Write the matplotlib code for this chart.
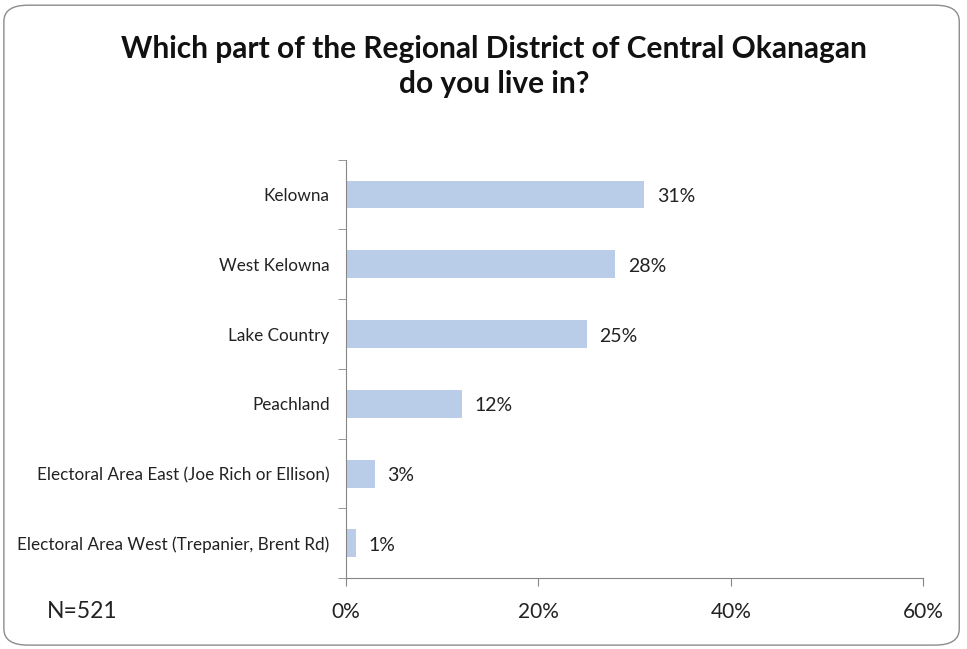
import matplotlib
matplotlib.use("Agg")
import matplotlib.pyplot as plt
from matplotlib.patches import FancyBboxPatch
import numpy as np

# data
categories = ["Kelowna", "West Kelowna", "Lake Country", "Peachland",
              "Electoral Area East (Joe Rich or Ellison)",
              "Electoral Area West (Trepanier, Brent Rd)"]
values = [31, 28, 25, 12, 3, 1]
xticks = [0, 20, 40, 60]
title = "Which part of the Regional District of Central Okanagan\ndo you live in?"
note = "N=521"

plt.rcParams["font.family"] = ["Lato", "DejaVu Sans"]
axis_color = "#868686"
bar_color = "#B9CCE8"

fig = plt.figure(figsize=(9.67, 6.49), dpi=100)

# rounded chart border
border = FancyBboxPatch((0.004, 0.006), 0.988, 0.986,
                        boxstyle="round,pad=0,rounding_size=0.025",
                        transform=fig.transFigure, fill=False,
                        edgecolor="#8c8c8c", linewidth=1.0)
fig.patches.append(border)

ax = fig.add_axes([0.358, 0.109, 0.5965, 0.645])

y = np.arange(len(categories))
ax.barh(y, values, height=0.4, color=bar_color)
ax.set_ylim(len(categories) - 0.5, -0.5)
ax.set_xlim(0, 60)

# value labels
for yi, v in zip(y, values):
    ax.text(v + 1.3, yi + 0.03, "{}%".format(v), va="center", ha="left",
            fontsize=14, color="#222222")

# y axis: ticks between categories
ax.set_yticks(y)
ax.set_yticklabels(categories, fontsize=12.3, color="#222222")
ax.tick_params(axis="y", length=0, pad=12)
ax.set_yticks(np.arange(-0.5, len(categories), 1.0), minor=True)
ax.tick_params(axis="y", which="minor", length=6, color=axis_color, direction="out")

ax.set_xticks(xticks)
ax.set_xticklabels(["{}%".format(t) for t in xticks], fontsize=15, color="#222222")
ax.tick_params(axis="x", length=6, color=axis_color, direction="out", pad=11)

for side in ["top", "right"]:
    ax.spines[side].set_visible(False)
for side in ["left", "bottom"]:
    ax.spines[side].set_color(axis_color)

fig.text(0.511, 0.897, title, ha="center", va="center", fontsize=21.5,
         fontweight="bold", color="#111111", linespacing=1.3)
fig.text(0.048, 0.058, note, ha="left", va="center", fontsize=16.5, color="#222222")

fig.savefig("out.png", dpi=100)
